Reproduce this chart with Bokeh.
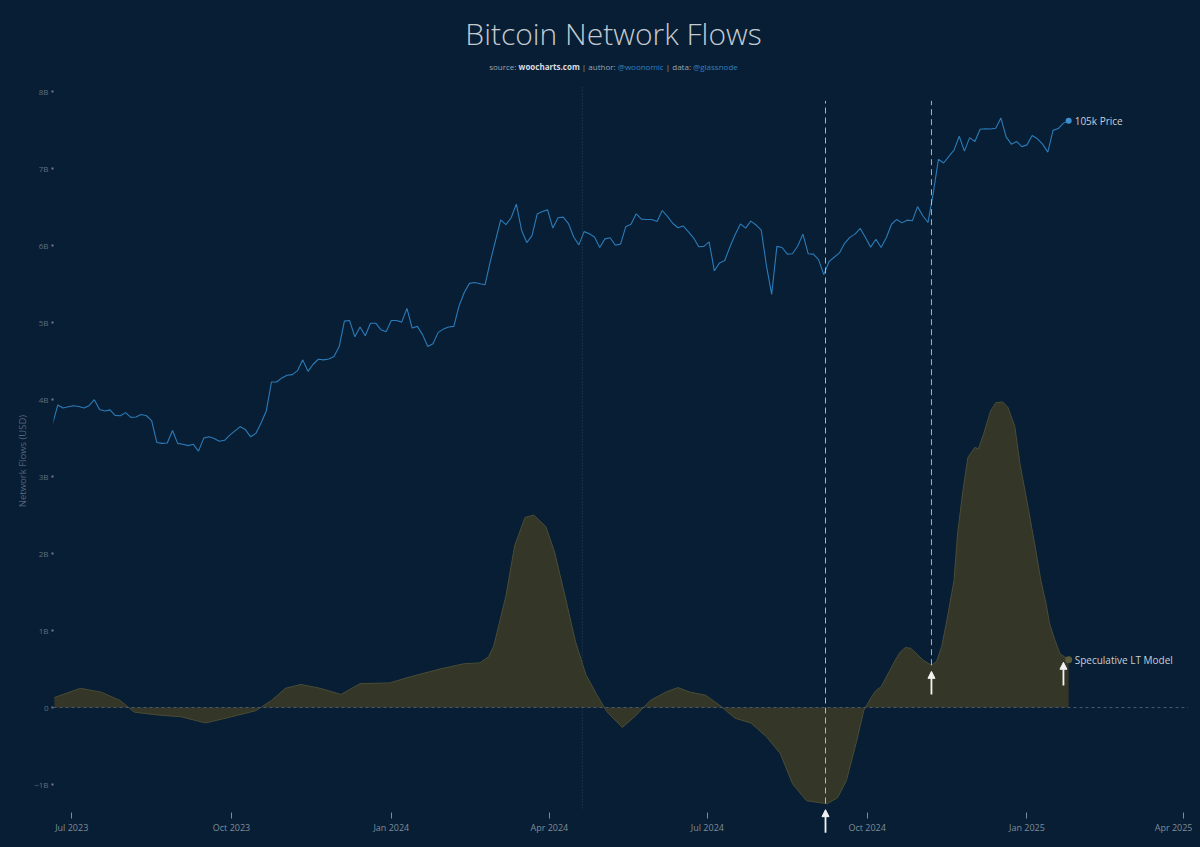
import numpy as np
import pandas as pd
from bokeh.plotting import figure
from bokeh.models import (Range1d, LogScale, Span, Label, Arrow, NormalHead,
                          FixedTicker, Div)
from bokeh.layouts import column
from bokeh.embed import file_html
from bokeh.resources import INLINE

BG = "#081e34"
FONT = "Open Sans"

# ---------------- data ----------------
price_start = "2023-06-20"
price_step_days = 3
price_usd = [
    28300, 30700, 30300, 30450, 30600, 30500, 30300, 30600, 31400, 30100,
    29900, 30050, 29350, 29300, 29700, 29100, 29150, 29450, 29300, 28700,
    26100, 26000, 26050, 27500, 26000, 25900, 25750, 25900, 25150, 26600,
    26750, 26550, 26250, 26350, 26950, 27450, 27950, 27600, 26750, 27150,
    28400, 29900, 33900, 33900, 34500, 34900, 35000, 35600, 37300, 35500,
    36600, 37400, 37300, 37450, 37850, 39500, 44100, 44200, 41200, 43000,
    41400, 43700, 43700, 42500, 42100, 44200, 44200, 43900, 46600, 42800,
    43100, 41600, 39500, 40000, 42000, 42600, 43000, 43100, 47100, 49900,
    51900, 52100, 51800, 51600, 57100, 62400, 68300, 66900, 68900, 73100,
    65300, 61900, 63800, 70000, 70800, 71300, 65900, 68900, 69100, 67200,
    63400, 61300, 64900, 64300, 63400, 60600, 62900, 63200, 61200, 61500,
    66300, 67000, 70100, 68500, 68400, 68400, 67800, 71100, 69300, 67300,
    66000, 66500, 64900, 63200, 60800, 60900, 62100, 54800, 56700, 57300,
    60800, 64100, 67100, 65900, 67900, 66800, 65300, 56000, 49500, 60900,
    60600, 58900, 59000, 61000, 64200, 59000, 58900, 57500, 53900, 57000,
    58100, 59200, 61700, 63300, 64200, 65800, 63300, 60700, 62800, 60600,
    63200, 67000, 68400, 67400, 68200, 68000, 72300, 69500, 67500, 76500,
    88700, 87300, 89800, 92300, 98000, 91900, 97400, 95800, 101000, 101200,
    101100, 101400, 106000, 97700, 94700, 95800, 93700, 94400, 98300, 96900,
    94700, 91500, 100500, 101300, 103700, 104800,
]

flow_dates = [
    "2023-06-21", "2023-07-06", "2023-07-18", "2023-07-29", "2023-08-06",
    "2023-08-21", "2023-09-02", "2023-09-16", "2023-10-01", "2023-10-15",
    "2023-10-24", "2023-11-01", "2023-11-10", "2023-11-21", "2023-12-03",
    "2023-12-14", "2023-12-31", "2024-01-12", "2024-01-29", "2024-02-12",
    "2024-02-21", "2024-02-26", "2024-02-29", "2024-03-07", "2024-03-12",
    "2024-03-18", "2024-03-23", "2024-03-30", "2024-04-04", "2024-04-10",
    "2024-04-16", "2024-04-22", "2024-04-28", "2024-05-04", "2024-05-13",
    "2024-05-21", "2024-05-29", "2024-06-07", "2024-06-14", "2024-06-21",
    "2024-06-30", "2024-07-08", "2024-07-17", "2024-07-26", "2024-08-04",
    "2024-08-12", "2024-08-19", "2024-08-27", "2024-09-08", "2024-09-14",
    "2024-09-19", "2024-09-25", "2024-09-29", "2024-10-03", "2024-10-06",
    "2024-10-09", "2024-10-14", "2024-10-17", "2024-10-20", "2024-10-23",
    "2024-10-26", "2024-10-29", "2024-11-02", "2024-11-07", "2024-11-10",
    "2024-11-13", "2024-11-16", "2024-11-20", "2024-11-22", "2024-11-25",
    "2024-11-28", "2024-12-02", "2024-12-04", "2024-12-07", "2024-12-11",
    "2024-12-14", "2024-12-18", "2024-12-21", "2024-12-25", "2024-12-28",
    "2024-12-31", "2025-01-03", "2025-01-06", "2025-01-09", "2025-01-12",
    "2025-01-14", "2025-01-17", "2025-01-20", "2025-01-25",
]
flow_billion = [
    0.13, 0.25, 0.20, 0.09, -0.06,
    -0.10, -0.12, -0.20, -0.12, -0.04,
    0.09, 0.25, 0.30, 0.25, 0.17,
    0.31, 0.32, 0.40, 0.50, 0.57,
    0.58, 0.66, 0.80, 1.45, 2.10,
    2.47, 2.50, 2.35, 2.02, 1.45,
    0.86, 0.43, 0.18, -0.05, -0.26,
    -0.10, 0.09, 0.20, 0.26, 0.20,
    0.16, 0.03, -0.14, -0.20, -0.38,
    -0.60, -0.99, -1.21, -1.25, -1.17,
    -0.95, -0.43, -0.04, 0.12, 0.22,
    0.27, 0.48, 0.61, 0.72, 0.78,
    0.77, 0.71, 0.62, 0.55, 0.60,
    0.80, 1.15, 1.65, 2.25, 2.80,
    3.25, 3.38, 3.36, 3.55, 3.85,
    3.96, 3.97, 3.90, 3.65, 3.16,
    2.80, 2.43, 2.05, 1.65, 1.35,
    1.09, 0.88, 0.70, 0.62,
]
assert len(flow_dates) == len(flow_billion)

x_tick_dates = ["2023-07-01", "2023-10-01", "2024-01-01", "2024-04-01",
                "2024-07-01", "2024-10-01", "2025-01-01", "2025-04-01"]
x_tick_labels = ["Jul 2023", "Oct 2023", "Jan 2024", "Apr 2024",
                 "Jul 2024", "Oct 2024", "Jan 2025", "Apr 2025"]
y_ticks = [-1, 0, 1, 2, 3, 4, 5, 6, 7, 8]
y_tick_labels = ["\u22121B", "0", "1B", "2B", "3B", "4B", "5B", "6B", "7B", "8B"]

signal_dates = ["2024-09-07", "2024-11-07"]
arrow_dates = ["2024-09-07", "2024-11-07", "2025-01-22"]
halving_date = "2024-04-20"


def ms(d):
    return pd.Timestamp(d).value / 1e6


price_x = pd.date_range(price_start, periods=len(price_usd),
                        freq=f"{price_step_days}D")
flow_x = pd.to_datetime(flow_dates)
flow_ms = np.array([ms(d) for d in flow_dates])

Y_TOP, Y_PLOT_BOTTOM, Y_FRAME_BOTTOM = 8.08, -1.31, -1.675

# ---------------- figure ----------------
p = figure(width=1184, height=761, x_axis_type="datetime",
           output_backend="svg", toolbar_location=None,
           x_range=Range1d(ms("2023-06-20 12:00"), ms("2025-04-04")),
           y_range=Range1d(Y_FRAME_BOTTOM, Y_TOP),
           min_border_left=45, min_border_right=4,
           min_border_top=7, min_border_bottom=3)
p.extra_y_ranges = {"price": Range1d(4760, 122000)}
p.extra_y_scales = {"price": LogScale()}

p.background_fill_color = BG
p.border_fill_color = BG
p.outline_line_color = None
p.grid.visible = False

# axes (x tick marks and labels pulled up, arrow room kept below)
xa = p.xaxis[0]
xa.ticker = FixedTicker(ticks=[ms(d) for d in x_tick_dates])
xa.major_label_overrides = {int(ms(d)): lab for d, lab in zip(x_tick_dates, x_tick_labels)}
xa.axis_line_color = None
xa.minor_tick_line_color = None
xa.major_tick_line_color = "#7d8a97"
xa.major_tick_in = 24
xa.major_tick_out = -18
xa.major_label_standoff = -16
xa.major_label_text_color = "#7f8c99"
xa.major_label_text_font = FONT
xa.major_label_text_font_size = "9px"

ya = p.yaxis[0]
ya.ticker = FixedTicker(ticks=y_ticks)
ya.major_label_overrides = dict(zip(y_ticks, y_tick_labels))
ya.axis_line_color = None
ya.minor_tick_line_color = None
ya.major_tick_line_color = "#6f7e8e"
ya.major_tick_line_width = 2
ya.major_tick_in = 0
ya.major_tick_out = 2
ya.major_label_standoff = 3
ya.major_label_text_color = "#5f6e7f"
ya.major_label_text_font = FONT
ya.major_label_text_font_size = "8px"
ya.axis_label = "Network Flows (USD)"
ya.axis_label_text_font = FONT
ya.axis_label_text_font_style = "normal"
ya.axis_label_text_font_size = "9.5px"
ya.axis_label_text_color = "#52637a"
ya.axis_label_standoff = 2

# halving dotted line
hx = ms(halving_date)
p.segment(x0=[hx], y0=[Y_PLOT_BOTTOM], x1=[hx], y1=[Y_TOP],
          line_color="#2e4258", line_dash="1 2", line_width=1)

# flows area
p.varea(x=flow_x, y1=0, y2=flow_billion, fill_color="#343627", fill_alpha=1.0)
p.line(x=flow_x, y=flow_billion, line_color="#4a4c36", line_width=1)

# zero dashed line
p.add_layout(Span(location=0, dimension="width", line_color="#4a5a6b",
                  line_dash="3 3", line_width=1))

# price line (hidden log axis)
p.line(x=price_x, y=price_usd, y_range_name="price",
       line_color="#2b7bb9", line_width=1.1)
p.scatter(x=[price_x[-1]], y=[price_usd[-1]], y_range_name="price",
          size=6, fill_color="#3a8fd0", line_color=None)
p.add_layout(Label(x=ms(price_x[-1]), y=price_usd[-1], y_range_name="price",
                   text=f"{round(price_usd[-1] / 1000)}k Price",
                   x_offset=6, text_baseline="middle", text_align="left",
                   text_font=FONT, text_font_size="10px", text_color="#c7ced6"))

# flow end marker + label
p.scatter(x=[flow_x[-1]], y=[flow_billion[-1]], size=7,
          fill_color="#585a39", line_color=None)
p.add_layout(Label(x=ms(flow_dates[-1]), y=flow_billion[-1],
                   text="Speculative LT Model", x_offset=6,
                   text_baseline="middle", text_align="left",
                   text_font=FONT, text_font_size="10px", text_color="#c7ced6"))

# signal dashed verticals
sig_x = [ms(d) for d in signal_dates]
sig_y0 = [float(np.interp(v, flow_ms, flow_billion)) for v in sig_x]
p.segment(x0=sig_x, y0=sig_y0, x1=sig_x, y1=[7.88] * len(sig_x),
          line_color="#c9ced4", line_alpha=0.85, line_dash="6 4", line_width=1)

# arrows
for d in arrow_dates:
    xv = ms(d)
    fv = float(np.interp(xv, flow_ms, flow_billion))
    tip = fv - 0.08
    p.add_layout(Arrow(end=NormalHead(size=7, fill_color="#f2f2f2",
                                      line_color="#f2f2f2"),
                       x_start=xv, y_start=tip - 0.3, x_end=xv, y_end=tip,
                       line_color="#f2f2f2", line_width=1.8))

# ---------------- titles ----------------
title = Div(text=("<div style=\"width:1184px;box-sizing:border-box;"
                  "padding-left:27px;text-align:center;"
                  "font-family:'Open Sans';font-weight:300;font-size:30px;"
                  "color:#c3cad2;line-height:36px;padding-top:8px;\">"
                  "Bitcoin Network Flows</div>"),
            width=1184, height=50, margin=(0, 0, 0, 0))
sub = Div(text=("<div style=\"width:1184px;box-sizing:border-box;"
                "padding-left:27px;text-align:center;"
                "font-family:'Open Sans';font-size:8px;color:#9aa5b1;"
                "line-height:12px;\">source: "
                "<b style='color:#d8dde2'>woocharts.com</b> | author: "
                "<span style='color:#2f7fc4'>@woonomic</span> | data: "
                "<span style='color:#2f7fc4'>@glassnode</span></div>"),
          width=1184, height=20, margin=(0, 0, 0, 0))

layout = column(title, sub, p, spacing=0)

html = file_html(layout, INLINE, title="Bitcoin Network Flows")
html = html.replace("</head>", "<style>html,body{background:%s !important;}"
                    "body{margin:8px !important;}</style></head>" % BG, 1)
open("out.html", "w").write(html)
